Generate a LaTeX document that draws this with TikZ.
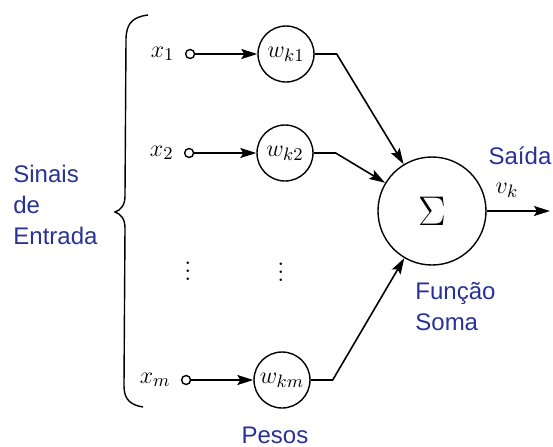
\documentclass[tikz,border=0pt]{standalone}
\usepackage{amsmath}
\usepackage{fontspec}
\usepackage{tikz}
\usetikzlibrary{positioning, arrows.meta}

\newfontfamily\labelfont{Liberation Sans}
\definecolor{label_blue}{RGB}{40,50,150}

\begin{document}
\begin{tikzpicture}[
    x=0.5pt, y=-0.5pt,
    weight_node/.style={circle, draw, line width=0.7pt, minimum size=28pt, inner sep=0pt, font=\fontsize{13}{15}\selectfont},
    sum_node/.style={circle, draw, line width=0.7pt, minimum size=54pt, inner sep=0pt, font=\fontsize{22}{24}\selectfont},
    input_pin/.style={circle, draw, line width=0.7pt, minimum size=4.5pt, inner sep=0pt},
    input_var/.style={inner sep=0pt, font=\fontsize{13}{15}\selectfont},
    blue_label/.style={inner sep=0pt, align=left, text=label_blue, font=\labelfont\fontsize{12}{15.5}\selectfont},
    edge_path/.style={-{Stealth[length=8pt, width=5pt, inset=1.5pt]}, line width=0.8pt},
    node distance=5pt and 31pt
  ]
  \useasboundingbox (0,0) rectangle (553,446);

  % neuron body and weights
  \node[sum_node] (S) at (432,211) {$\Sigma$};
  \node[weight_node] (W1) at (286,54) {$w_{k1}$};
  \node[weight_node] (W2) at (285,153) {$w_{k2}$};
  \node[weight_node] (Wm) at (282,380) {$w_{km}$};

  % input terminals
  \node[input_pin, left=of W1] (P1) {};
  \node[input_pin, left=of W2] (P2) {};
  \node[input_pin, left=of Wm] (Pm) {};
  \node[input_var, left=5pt of P1] (X1) {$x_1$};
  \node[input_var, left=5pt of P2] (X2) {$x_2$};
  \node[input_var, left=5pt of Pm] (Xm) {$x_m$};

  \node[input_var] (D1) at (188,265) {$\vdots$};
  \node[input_var] (D2) at (281,266) {$\vdots$};

  \draw[edge_path] (P1) to (W1);
  \draw[edge_path] (P2) to (W2);
  \draw[edge_path] (Pm) to (Wm);

  \draw[edge_path] (W1.east) -- ++(22,0) -- (S);
  \draw[edge_path] (W2.east) -- ++(22,0) -- (S);
  \draw[edge_path] (Wm.east) -- ++(22,0) -- (S);

  % output
  \coordinate (out) at (550,211);
  \draw[edge_path] (S.east) -- (out);
  \node[input_var] (V) at (507,190) {$v_k$};

  % brace around the inputs
  \draw[line width=0.7pt] (148,15) .. controls (132,17) and (126,24) .. (126,40)
    -- (125,196) .. controls (125,205) and (121,210) .. (115,212)
    .. controls (121,214) and (125,219) .. (125,228)
    -- (124,386) .. controls (124,400) and (131,405) .. (143,407);

  % labels
  \node[blue_label, anchor=west] (inputs) at (13,205) {Sinais\\de\\Entrada};
  \node[blue_label] (output) at (520,156) {Saída};
  \node[blue_label, anchor=north west] (sumlabel) at (415,282) {Função\\Soma};
  \node[blue_label] (weights) at (275,435) {Pesos};
\end{tikzpicture}
\end{document}
